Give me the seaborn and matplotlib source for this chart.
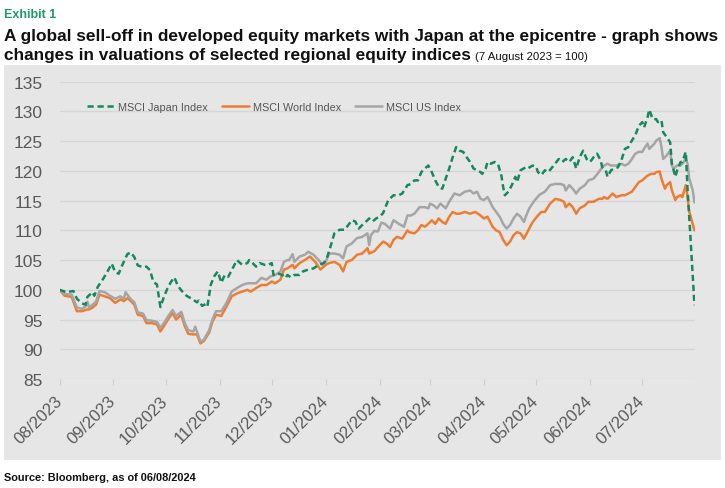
import numpy as np
import pandas as pd
import matplotlib
matplotlib.use("Agg")
import matplotlib.pyplot as plt
import seaborn as sns
from matplotlib.patches import Rectangle

# ---------------- data ----------------
BASE_DATE = "2023-08-07"  # 7 August 2023 = 100

series_names = ["MSCI Japan Index", "MSCI World Index", "MSCI US Index"]

japan_days = [
    0, 4, 8, 10, 13, 15, 16, 19, 20, 22,
    25, 28, 30, 32, 34, 36, 39, 41, 43, 45,
    48, 50, 52, 54, 56, 57, 58, 60, 62, 64,
    66, 68, 70, 73, 76, 79, 80, 82, 84, 85,
    87, 89, 91, 93, 95, 97, 100, 102, 105, 108,
    109, 111, 113, 115, 118, 120, 122, 123, 125, 128,
    130, 131, 133, 135, 138, 140, 143, 146, 149, 152,
    154, 156, 158, 161, 164, 166, 168, 170, 172, 174,
    177, 178, 180, 182, 184, 186, 189, 192, 195, 197,
    200, 202, 204, 206, 208, 210, 212, 214, 216, 218,
    220, 222, 224, 226, 228, 230, 232, 234, 236, 238,
    240, 242, 243, 245, 246, 248, 250, 252, 254, 255,
    256, 258, 260, 262, 263, 265, 268, 269, 272, 274,
    275, 277, 279, 281, 284, 287, 289, 291, 293, 295,
    297, 299, 301, 303, 305, 307, 309, 311, 312, 314,
    315, 317, 319, 321, 323, 325, 327, 329, 331, 333,
    335, 336, 338, 339, 341, 343, 344, 346, 347, 349,
    351, 352, 354, 355, 357, 358, 360, 361, 365,
]
japan_values = [
    100.0, 99.6, 99.8, 98.5, 97.7, 97.5, 98.8, 99.6, 99.0, 100.5,
    101.8, 103.3, 104.4, 103.0, 102.7, 104.1, 106.0, 106.3, 105.5, 104.1,
    103.8, 103.9, 103.3, 101.3, 100.9, 99.0, 97.1, 98.8, 100.2, 101.3,
    102.1, 100.7, 99.9, 99.0, 98.5, 97.9, 98.2, 97.3, 97.6, 97.2,
    100.9, 102.3, 103.1, 101.2, 102.5, 102.2, 103.9, 105.0, 104.2, 104.5,
    105.0, 104.5, 103.9, 104.5, 104.2, 104.2, 104.5, 102.5, 102.8, 102.5,
    102.0, 102.5, 102.1, 102.5, 102.5, 103.1, 103.4, 103.6, 104.2, 104.5,
    105.6, 107.5, 109.5, 110.1, 110.1, 110.9, 111.7, 111.5, 110.3, 110.9,
    111.7, 112.0, 111.5, 112.0, 112.3, 112.9, 115.1, 115.9, 115.9, 116.2,
    117.6, 117.8, 118.4, 118.4, 119.8, 120.4, 120.9, 119.8, 118.4, 117.3,
    117.0, 118.7, 120.4, 122.3, 124.0, 123.4, 123.2, 122.3, 121.5, 120.4,
    120.1, 119.8, 119.5, 120.4, 121.5, 121.2, 121.5, 121.2, 119.2, 117.3,
    115.9, 116.5, 117.6, 119.0, 118.1, 120.1, 120.6, 120.4, 120.9, 120.7,
    119.8, 119.3, 120.1, 119.8, 120.9, 122.0, 121.5, 122.0, 121.5, 122.3,
    120.4, 122.3, 123.4, 122.0, 121.5, 122.3, 122.9, 121.8, 120.6, 120.1,
    119.0, 120.1, 120.4, 120.6, 121.8, 123.7, 124.0, 125.1, 126.0, 127.6,
    128.2, 127.3, 129.0, 130.3, 128.7, 128.7, 128.2, 128.5, 126.5, 125.7,
    124.8, 121.2, 119.0, 120.1, 121.5, 121.5, 123.2, 117.0, 97.4,
]

world_days = [
    0, 3, 7, 10, 13, 16, 17, 19, 21, 23,
    26, 29, 32, 35, 37, 39, 41, 43, 45, 48,
    50, 53, 56, 58, 60, 63, 65, 67, 70, 72,
    74, 77, 79, 81, 83, 86, 88, 90, 93, 96,
    99, 102, 105, 108, 110, 113, 116, 119, 122, 124,
    127, 129, 131, 134, 135, 138, 141, 144, 147, 150,
    153, 155, 158, 161, 163, 165, 168, 171, 174, 177,
    178, 181, 184, 186, 188, 190, 192, 194, 197, 200,
    201, 204, 206, 208, 210, 212, 214, 216, 218, 220,
    222, 224, 226, 228, 230, 233, 236, 239, 242, 244,
    246, 247, 249, 251, 253, 255, 257, 259, 261, 263,
    265, 267, 268, 270, 272, 275, 277, 279, 282, 285,
    288, 290, 291, 293, 295, 297, 299, 302, 304, 307,
    310, 312, 313, 315, 318, 320, 323, 325, 327, 329,
    331, 333, 335, 336, 338, 340, 342, 343, 345, 346,
    348, 349, 351, 352, 354, 355, 357, 358, 360, 361,
    362, 365,
]
world_values = [
    100.0, 99.0, 98.8, 96.4, 96.4, 96.7, 96.7, 97.0, 97.5, 99.2,
    98.9, 98.6, 97.8, 98.4, 98.1, 98.6, 98.1, 97.5, 95.8, 95.6,
    94.4, 94.4, 94.2, 93.0, 93.9, 95.3, 96.1, 95.0, 95.8, 93.9,
    92.6, 92.5, 92.5, 91.0, 91.4, 92.8, 94.7, 95.8, 95.6, 97.2,
    98.9, 99.4, 99.7, 100.0, 99.7, 100.3, 100.8, 100.8, 101.4, 101.1,
    101.7, 103.4, 103.6, 104.2, 103.6, 104.5, 105.0, 105.6, 104.7, 103.4,
    104.2, 104.5, 104.7, 104.2, 103.1, 104.7, 105.0, 105.9, 106.1, 107.0,
    106.1, 106.5, 107.5, 108.1, 107.8, 107.2, 108.4, 108.9, 108.6, 110.0,
    109.7, 109.5, 110.0, 110.9, 110.6, 111.1, 111.7, 111.1, 112.0, 111.4,
    111.1, 112.3, 113.1, 112.8, 112.8, 113.1, 112.8, 113.1, 112.5, 112.0,
    112.3, 111.7, 110.6, 110.0, 109.7, 108.4, 107.5, 108.1, 109.2, 109.7,
    109.5, 108.6, 109.2, 110.3, 111.4, 112.5, 113.1, 113.1, 114.5, 115.3,
    115.1, 114.8, 113.9, 114.5, 113.9, 112.8, 113.7, 114.2, 114.8, 114.8,
    115.3, 115.3, 115.6, 115.3, 116.2, 115.6, 115.9, 115.9, 116.2, 116.5,
    117.3, 118.1, 118.4, 118.7, 119.2, 119.5, 119.5, 119.8, 119.9, 118.7,
    117.0, 117.6, 118.1, 116.7, 115.1, 115.6, 115.9, 115.6, 117.6, 115.6,
    113.1, 110.0,
]

us_days = [
    0, 3, 7, 10, 13, 15, 16, 17, 19, 21,
    23, 26, 29, 32, 35, 37, 38, 41, 43, 45,
    48, 50, 53, 56, 58, 60, 63, 65, 67, 70,
    72, 74, 77, 78, 81, 83, 86, 88, 90, 93,
    96, 99, 102, 105, 108, 110, 113, 116, 119, 121,
    124, 127, 129, 131, 132, 134, 135, 138, 141, 143,
    146, 149, 151, 153, 155, 158, 161, 163, 165, 168,
    171, 174, 177, 178, 179, 181, 183, 185, 187, 190,
    192, 195, 198, 200, 202, 204, 207, 210, 212, 213,
    215, 217, 219, 222, 224, 227, 230, 233, 236, 238,
    240, 242, 244, 246, 247, 249, 251, 253, 255, 257,
    259, 261, 263, 265, 267, 268, 270, 273, 276, 279,
    282, 285, 288, 290, 291, 293, 295, 297, 299, 302,
    304, 307, 310, 312, 313, 315, 317, 320, 323, 325,
    327, 329, 331, 333, 335, 336, 338, 339, 340, 342,
    343, 345, 346, 347, 349, 351, 352, 353, 355, 357,
    358, 360, 361, 362, 364, 365,
]
us_values = [
    100.0, 99.3, 99.2, 97.0, 96.8, 97.2, 98.0, 97.0, 97.5, 98.0,
    99.8, 99.6, 99.0, 98.5, 98.9, 98.5, 99.6, 98.4, 97.9, 96.2,
    96.0, 94.9, 94.8, 94.6, 93.6, 94.4, 95.8, 96.6, 95.6, 96.3,
    94.4, 93.2, 93.0, 93.8, 91.3, 91.6, 93.2, 95.1, 96.4, 96.4,
    97.8, 99.7, 100.3, 100.8, 101.1, 101.1, 101.1, 102.0, 101.7, 102.2,
    102.5, 103.1, 104.7, 105.0, 105.0, 106.0, 104.7, 105.6, 105.9, 106.4,
    105.9, 105.0, 104.2, 104.7, 106.1, 106.1, 105.9, 105.3, 107.3, 107.8,
    108.7, 108.9, 109.5, 107.5, 109.2, 109.9, 109.8, 111.3, 111.1, 110.3,
    111.7, 111.1, 110.6, 112.5, 112.5, 112.8, 113.9, 113.9, 113.7, 114.5,
    114.2, 113.7, 114.5, 113.7, 114.8, 116.2, 115.9, 116.5, 116.7, 116.2,
    116.5, 115.3, 115.1, 115.6, 115.1, 113.9, 113.1, 112.3, 111.1, 110.3,
    110.9, 112.0, 112.8, 112.3, 111.4, 112.3, 113.7, 115.0, 116.0, 116.5,
    117.6, 117.8, 117.8, 117.6, 116.7, 117.6, 117.0, 116.2, 117.0, 117.6,
    118.4, 118.7, 119.8, 120.6, 120.9, 121.2, 120.9, 120.9, 121.2, 120.9,
    121.2, 122.0, 122.9, 123.2, 123.2, 123.7, 124.6, 123.7, 124.0, 124.6,
    125.1, 125.5, 124.0, 122.0, 122.6, 123.4, 120.9, 120.4, 120.9, 120.9,
    121.2, 122.0, 121.2, 118.7, 116.7, 114.7,
]

y_ticks = [85, 90, 95, 100, 105, 110, 115, 120, 125, 130, 135]
x_tick_labels = ["08/2023", "09/2023", "10/2023", "11/2023", "12/2023", "01/2024",
                 "02/2024", "03/2024", "04/2024", "05/2024", "06/2024", "07/2024"]

# ---------------- styling ----------------
W, H = 725, 489
PANEL = "#e7e6e7"
GREEN = "#15895b"
ORANGE = "#ed7d31"
GREY = "#a5a5a5"
TEXT_GREY = "#595959"

sns.set_theme(style="white")
plt.rcParams["font.family"] = ["Liberation Sans", "DejaVu Sans"]

base = pd.Timestamp(BASE_DATE)


def frame(days, values):
    return pd.DataFrame({"date": base + pd.to_timedelta(days, unit="D"), "value": values})


fig = plt.figure(figsize=(W / 100, H / 100), dpi=100)
fig.patch.set_facecolor("white")
fig.patches.append(Rectangle((4 / W, 1 - 461 / H), 717 / W, 395 / H,
                             transform=fig.transFigure, facecolor=PANEL,
                             edgecolor="none", zorder=-5))

ax = fig.add_axes([59.5 / W, 1 - 380 / H, 635 / W, 297.3 / H])
ax.set_zorder(2)
ax.set_facecolor(PANEL)

sns.lineplot(data=frame(world_days, world_values), x="date", y="value", ax=ax,
             color=ORANGE, lw=1.8, zorder=3)
l_world = ax.lines[-1]
sns.lineplot(data=frame(us_days, us_values), x="date", y="value", ax=ax,
             color=GREY, lw=1.8, zorder=4)
l_us = ax.lines[-1]
sns.lineplot(data=frame(japan_days, japan_values), x="date", y="value", ax=ax,
             color=GREEN, lw=1.8, linestyle=(0, (2.5, 1.5)), zorder=5)
l_jp = ax.lines[-1]

ax.set_ylim(85, 135)
ax.set_xlim(base, base + pd.Timedelta(days=365))
ax.set_yticks(y_ticks)
ax.set_yticklabels([str(v) for v in y_ticks])
tick_dates = pd.date_range(base, periods=len(x_tick_labels), freq=pd.DateOffset(months=1))
ax.set_xticks(tick_dates)
ax.set_xticklabels(x_tick_labels, rotation=45, ha="right", va="center",
                   rotation_mode="anchor")
ax.set_xlabel("")
ax.set_ylabel("")
ax.grid(axis="y", color="#d6d5d6", lw=0.9)
ax.grid(axis="x", visible=False)
for s in ax.spines.values():
    s.set_visible(False)
ax.tick_params(axis="y", length=0, pad=12, labelsize=12.5, labelcolor=TEXT_GREY)
ax.tick_params(axis="x", length=4, width=0.8, color="#cfcfcf", pad=10,
               labelsize=12, labelcolor=TEXT_GREY, direction="out", bottom=True)

leg = ax.legend(handles=[l_jp, l_world, l_us], labels=series_names, loc="center",
                bbox_to_anchor=(0.338, 0.916), ncol=3, frameon=False,
                fontsize=7.8, handlelength=2.5, handletextpad=0.35,
                columnspacing=1.3, labelcolor="#555555")

# ---------------- titles ----------------
fig.text(4 / W, 1 - 18 / H, "Exhibit 1", color="#1e9a68", fontsize=9,
         fontweight="bold", va="baseline", ha="left")
fig.text(4 / W, 1 - 41 / H,
         "A global sell-off in developed equity markets with Japan at the epicentre - graph shows",
         color="#111111", fontsize=12.4, fontweight="bold", va="baseline", ha="left")
t2 = fig.text(4 / W, 1 - 60 / H,
              "changes in valuations of selected regional equity indices",
              color="#111111", fontsize=12.4, fontweight="bold", va="baseline", ha="left")
fig.canvas.draw()
bb = t2.get_window_extent()
fig.text((bb.x1 + 4) / W, 1 - 60 / H, "(7 August 2023 = 100)", color="#111111",
         fontsize=8.2, va="baseline", ha="left")
fig.text(4 / W, 1 - 481 / H, "Source: Bloomberg, as of 06/08/2024", color="#111111",
         fontsize=7.9, fontweight="bold", va="baseline", ha="left")

fig.savefig("out.png", dpi=100, facecolor="white")
